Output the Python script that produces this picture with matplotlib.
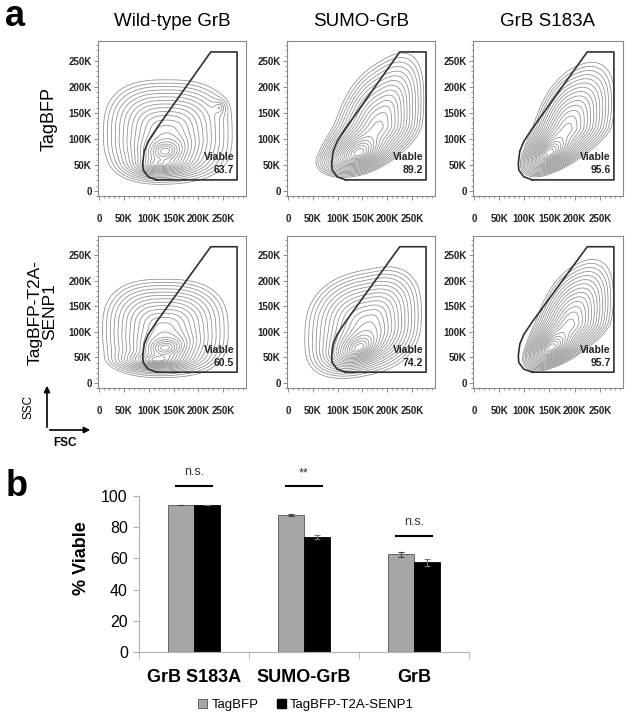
import numpy as np
import matplotlib
matplotlib.use('Agg')
import matplotlib.pyplot as plt
from matplotlib.ticker import MultipleLocator, FixedLocator
from matplotlib.patches import Patch, FancyArrowPatch

plt.rcParams['font.family'] = ['Liberation Sans', 'DejaVu Sans']

# ---- panel a: flow plots ----
col_titles = ['Wild-type GrB', 'SUMO-GrB', 'GrB S183A']
row_labels = ['TagBFP', 'TagBFP-T2A-\nSENP1']
viable = [[63.7, 89.2, 95.6], [60.5, 74.2, 95.7]]

# density components:
# [x, y, scale left, scale right, scale down, scale up, rho, shape, weight]
wt_tagbfp = [[133e3, 76e3, 14e3, 14e3, 9e3, 9e3, 0.1, 2, 1.0],
             [120e3, 52e3, 15e3, 20e3, 6e3, 6e3, 0.1, 2, 0.45],
             [135e3, 112e3, 36e3, 38e3, 27e3, 29e3, 0.0, 2.7, 0.3],
             [242e3, 160e3, 6e3, 6e3, 6e3, 6e3, 0.0, 2, 0.03]]
sumo_tagbfp = [[143e3, 73e3, 17e3, 15e3, 9e3, 13e3, 0.4, 2, 1.0],
               [183e3, 125e3, 25e3, 25e3, 20e3, 37e3, 0.4, 2.5, 0.3]]
s183a_tagbfp = [[149e3, 73e3, 11e3, 14e3, 9e3, 12e3, 0.5, 2, 1.0],
                [185e3, 120e3, 20e3, 26e3, 18e3, 34e3, 0.45, 2.3, 0.3]]
wt_senp1 = [[133e3, 69e3, 14e3, 14e3, 8e3, 8e3, 0.1, 2, 1.0],
            [118e3, 46e3, 18e3, 18e3, 5e3, 5e3, 0.05, 2, 0.6],
            [130e3, 105e3, 35e3, 37e3, 26e3, 28e3, 0.0, 2.7, 0.3]]
sumo_senp1 = [[143e3, 69e3, 15e3, 14e3, 9e3, 12e3, 0.4, 2, 1.0],
              [162e3, 115e3, 36e3, 30e3, 28e3, 31e3, 0.2, 2.6, 0.3]]
s183a_senp1 = [[153e3, 69e3, 11e3, 14e3, 9e3, 12e3, 0.5, 2, 1.0],
               [190e3, 115e3, 20e3, 24e3, 17e3, 34e3, 0.45, 2.3, 0.3]]
populations = [[wt_tagbfp, sumo_tagbfp, s183a_tagbfp],
               [wt_senp1, sumo_senp1, s183a_senp1]]

# viable gate (FSC, SSC)
gate_x = [116e3, 99e3, 89e3, 88e3, 91e3, 99e3, 116e3, 225e3, 278e3, 278e3, 116e3]
gate_y = [21e3, 27e3, 40e3, 53e3, 76e3, 95e3, 120e3, 267e3, 267e3, 21e3, 21e3]

# ---- panel b: bar chart ----
groups = ['GrB S183A', 'SUMO-GrB', 'GrB']
tagbfp = [94.2, 87.6, 62.5]
tagbfp_err = [0.0, 0.7, 1.8]
senp1 = [94.0, 73.4, 57.4]
senp1_err = [0.0, 1.3, 2.4]
sig_labels = ['n.s.', '**', 'n.s.']
sig_heights = [106.5, 106.5, 74.5]

fig = plt.figure(figsize=(6.32, 7.22), dpi=100)

xs = np.linspace(0, 300e3, 300)
ys = np.linspace(-10e3, 290e3, 300)
X, Y = np.meshgrid(xs, ys)


def density(comps):
    d = np.zeros_like(X)
    for cx, cy, sxl, sxr, syd, syu, r, p, w in comps:
        u = (X - cx) / np.where(X < cx, sxl, sxr)
        v = (Y - cy) / np.where(Y < cy, syd, syu)
        v = (v - r * u) / np.sqrt(1 - r * r)
        q = (np.abs(u) ** p + np.abs(v) ** p) ** (2 / p)
        d += w * np.exp(1 - np.sqrt(1 + q))
    return d


col_left = [0.1551, 0.4541, 0.7484]
col_w = [0.2342, 0.2342, 0.2373]
row_bottom = [0.7285, 0.4626]
row_h = [0.2147, 0.2105]
gray = '#8a8a8a'
ticks = [0, 50e3, 100e3, 150e3, 200e3, 250e3]
tlabels = ['0', '50K', '100K', '150K', '200K', '250K']

for i in range(2):
    for j in range(3):
        ax = fig.add_axes([col_left[j], row_bottom[i], col_w[j], row_h[i]])
        d = density(populations[i][j])
        levels = d.max() * np.exp(-np.linspace(4.0, 0.15, 19))
        ax.contour(X, Y, d, levels=levels, colors='#8c8c8c', linewidths=0.55)
        ax.plot(gate_x, gate_y, color='#303030', lw=1.2)
        ax.text(272e3, 65e3, 'Viable', ha='right', va='center', fontsize=7.5,
                fontweight='bold', color='#222')
        ax.text(272e3, 40e3, f'{viable[i][j]}', ha='right', va='center', fontsize=7.5,
                fontweight='bold', color='#222')
        ax.set_xlim(-2e3, 296e3)
        ax.set_ylim(-10e3, 288e3)
        ax.set_xticks(ticks)
        ax.set_xticklabels(tlabels)
        ax.set_yticks(ticks)
        ax.set_yticklabels(tlabels)
        ax.xaxis.set_minor_locator(MultipleLocator(10e3))
        ax.yaxis.set_minor_locator(MultipleLocator(10e3))
        ax.tick_params(axis='both', which='major', labelsize=7, length=3, width=0.7,
                       color=gray, direction='out')
        ax.tick_params(axis='both', which='minor', length=1.5, width=0.6, color=gray)
        ax.tick_params(axis='x', which='major', pad=10)
        ax.tick_params(axis='y', which='major', pad=1.5)
        for lab in ax.get_xticklabels() + ax.get_yticklabels():
            lab.set_fontweight('bold')
            lab.set_color('#222')
        for s in ax.spines.values():
            s.set_color(gray)
            s.set_linewidth(0.8)
        if i == 0:
            ax.set_title(col_titles[j], fontsize=13.5, pad=11)
        if j == 0:
            ax.set_ylabel(row_labels[i], fontsize=13 if i == 0 else 12.5,
                          linespacing=0.95, labelpad=8)

fig.text(0.024, 0.977, 'a', fontsize=26, fontweight='bold', ha='center', va='center')
fig.text(0.027, 0.326, 'b', fontsize=26, fontweight='bold', ha='center', va='center')

# SSC / FSC arrows
fig.add_artist(FancyArrowPatch((47 / 632, 1 - 430 / 722), (47 / 632, 1 - 383 / 722),
               transform=fig.transFigure, arrowstyle='-|>', mutation_scale=9, lw=1.2, color='black'))
fig.add_artist(FancyArrowPatch((47 / 632, 1 - 430 / 722), (93 / 632, 1 - 430 / 722),
               transform=fig.transFigure, arrowstyle='-|>', mutation_scale=9, lw=1.2, color='black'))
fig.text(28 / 632, 1 - 407 / 722, 'SSC', rotation=90, fontsize=8.5, ha='center', va='center')
fig.text(65 / 632, 1 - 443 / 722, 'FSC', fontsize=8.5, fontweight='bold', ha='center', va='center')

# bar chart
bx = fig.add_axes([0.2199, 0.097, 0.5222, 0.2593])
x = np.arange(len(groups))
bw = 0.24
bx.bar(x - bw / 2, tagbfp, bw, yerr=tagbfp_err, color='#a6a6a6', edgecolor='#555',
       linewidth=0.6, error_kw=dict(ecolor='#444', elinewidth=0.8, capsize=2, capthick=0.8))
bx.bar(x + bw / 2, senp1, bw, yerr=senp1_err, color='black', edgecolor='black',
       linewidth=0.6, error_kw=dict(ecolor='#777', elinewidth=0.8, capsize=2, capthick=0.8))
for k in range(len(groups)):
    bx.plot([x[k] - 0.16, x[k] + 0.16], [sig_heights[k], sig_heights[k]], color='black',
            lw=1.5, clip_on=False)
    bx.text(x[k], sig_heights[k] + (5 if sig_labels[k] == 'n.s.' else 4), sig_labels[k],
            ha='center', va='bottom', fontsize=9, color='#333', clip_on=False)
bx.set_xlim(-0.5, 2.5)
bx.set_ylim(0, 120)
bx.set_yticks([0, 20, 40, 60, 80, 100])
bx.set_xticks(x)
bx.set_xticklabels(groups, fontsize=13, fontweight='bold')
bx.xaxis.set_minor_locator(FixedLocator([-0.5, 0.5, 1.5, 2.5]))
bx.tick_params(axis='x', which='major', length=0, pad=12)
bx.tick_params(axis='x', which='minor', length=5, color='#b0b0b0')
bx.tick_params(axis='y', labelsize=11.5, length=4, color='#b0b0b0', pad=4)
bx.spines['top'].set_visible(False)
bx.spines['right'].set_visible(False)
bx.spines['left'].set_color('#b0b0b0')
bx.spines['bottom'].set_color('#b0b0b0')
bx.spines['left'].set_bounds(0, 100)
bx.set_ylabel('% Viable', fontsize=13, fontweight='bold', labelpad=8)

handles = [Patch(facecolor='#a6a6a6', edgecolor='#555', linewidth=0.6, label='TagBFP'),
           Patch(facecolor='black', edgecolor='black', label='TagBFP-T2A-SENP1')]
fig.legend(handles=handles, loc='center', bbox_to_anchor=(306 / 632, 1 - 705 / 722), ncol=2,
           frameon=False, fontsize=9.5, handlelength=0.7, handleheight=0.7,
           handletextpad=0.3, columnspacing=1.4)

fig.savefig('out.png', dpi=100)
